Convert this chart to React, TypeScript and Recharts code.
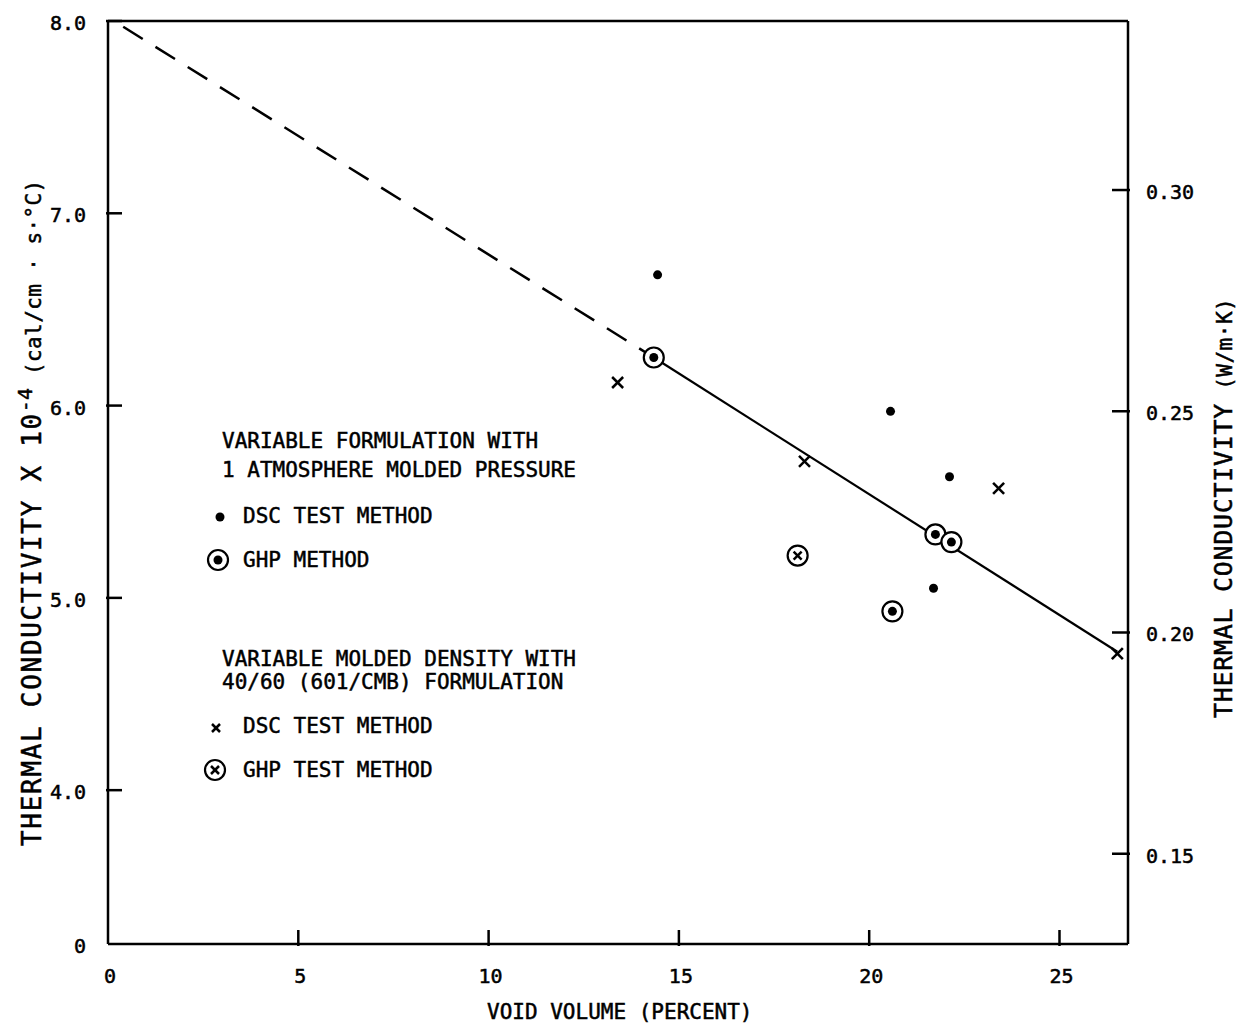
import React from "react";
import { ComposedChart, XAxis, YAxis, Line, Scatter, ReferenceLine } from "recharts";

// void volume (%) vs thermal conductivity (x10^-4 cal/cm·s·°C)
const dscFormulation = [
  { x: 14.44, y: 6.68 },
  { x: 20.56, y: 5.97 },
  { x: 22.11, y: 5.63 },
  { x: 21.69, y: 5.05 },
];
const ghpFormulation = [
  { x: 14.34, y: 6.25 },
  { x: 21.74, y: 5.33 },
  { x: 22.16, y: 5.29 },
  { x: 20.61, y: 4.93 },
];
const dscDensity = [
  { x: 13.39, y: 6.12 },
  { x: 18.3, y: 5.71 },
  { x: 23.4, y: 5.57 },
  { x: 26.52, y: 4.71 },
];
const ghpDensity = [{ x: 18.12, y: 5.22 }];

// fitted line: extrapolated (dashed) and measured range (solid)
const fitDashed = [
  { x: 0.4, y: 7.97 },
  { x: 14.34, y: 6.25 },
];
const fitSolid = [
  { x: 14.34, y: 6.25 },
  { x: 26.52, y: 4.72 },
];

const xTicks = [0, 5, 10, 15, 20, 25];
// broken axis: bottom of the frame is labelled 0
const leftTicks = [3.2, 4, 5, 6, 7, 8];
const leftTickLabels = ["0", "4.0", "5.0", "6.0", "7.0", "8.0"];
const rightTicks = [0.15, 0.2, 0.25, 0.3];
const rightTickLabels = ["0.15", "0.20", "0.25", "0.30"];

const FONT = "'DejaVu Sans Mono', monospace";
const INK = "#000";

const txt = { fontFamily: FONT, fill: INK, stroke: INK, strokeWidth: 0.5 };

function Dot({ cx, cy }: any) {
  return <circle cx={cx} cy={cy} r={4.5} fill={INK} />;
}
function CircleDot({ cx, cy }: any) {
  return (
    <g>
      <circle cx={cx} cy={cy} r={10} fill="#fff" stroke={INK} strokeWidth={2.2} />
      <circle cx={cx} cy={cy} r={4.5} fill={INK} />
    </g>
  );
}
function Cross({ cx, cy, s = 5.5 }: any) {
  return (
    <g stroke={INK} strokeWidth={2.5}>
      <line x1={cx - s} y1={cy - s} x2={cx + s} y2={cy + s} />
      <line x1={cx - s} y1={cy + s} x2={cx + s} y2={cy - s} />
    </g>
  );
}
function CircleCross({ cx, cy }: any) {
  return (
    <g>
      <circle cx={cx} cy={cy} r={10} fill="#fff" stroke={INK} strokeWidth={2.2} />
      <Cross cx={cx} cy={cy} s={4} />
    </g>
  );
}

function LeftTick({ x, y, payload }: any) {
  const i = leftTicks.indexOf(payload.value);
  return (
    <g>
      {i > 0 && <line x1={x} x2={x + 16} y1={y} y2={y} stroke={INK} strokeWidth={2.5} />}
      <text x={x - 20} y={y + 9} textAnchor="end" fontSize={20} {...txt}>
        {leftTickLabels[i]}
      </text>
    </g>
  );
}

function RightTick({ x, y, payload }: any) {
  const i = rightTicks.indexOf(payload.value);
  return (
    <g>
      <line x1={x - 18} x2={x} y1={y} y2={y} stroke={INK} strokeWidth={2.5} />
      <text x={x + 16} y={y + 9} textAnchor="start" fontSize={20} {...txt}>
        {rightTickLabels[i]}
      </text>
    </g>
  );
}

function BottomTick({ x, y, payload }: any) {
  return (
    <g>
      {payload.value !== 0 && <line x1={x} x2={x} y1={y} y2={y - 16} stroke={INK} strokeWidth={2.5} />}
      <text x={x + 2} y={y + 37} textAnchor="middle" fontSize={20} {...txt}>
        {String(payload.value)}
      </text>
    </g>
  );
}

function Annotations() {
  const line = (x: number, y: number, s: string) => (
    <text x={x} y={y} fontSize={21} {...txt}>
      {s}
    </text>
  );
  return (
    <svg
      width={1241}
      height={1026}
      style={{ position: "absolute", left: 0, top: 0, pointerEvents: "none" }}
    >
      {line(222, 448, "VARIABLE FORMULATION WITH")}
      {line(222, 477, "1 ATMOSPHERE MOLDED PRESSURE")}
      <Dot cx={220} cy={517} />
      {line(243, 523, "DSC TEST METHOD")}
      <CircleDot cx={218} cy={560} />
      {line(243, 567, "GHP METHOD")}

      {line(222, 666, "VARIABLE MOLDED DENSITY WITH")}
      {line(222, 689, "40/60 (601/CMB) FORMULATION")}
      <Cross cx={216} cy={728} s={4} />
      {line(243, 733, "DSC TEST METHOD")}
      <CircleCross cx={215} cy={770} />
      {line(243, 777, "GHP TEST METHOD")}

      <text x={487} y={1019} fontSize={21} {...txt}>
        VOID VOLUME (PERCENT)
      </text>

      <text transform="translate(41,846) rotate(-90)" fontSize={26} {...txt}>
        <tspan letterSpacing={1.7}>THERMAL CONDUCTIVITY X 10</tspan>
        <tspan fontSize={20} dy={-9}>-4</tspan>
        <tspan fontSize={21} dy={9} letterSpacing={0.4}> (cal/cm · s·°C)</tspan>
      </text>

      <text transform="translate(1232,718) rotate(-90)" fontSize={25} {...txt}>
        <tspan letterSpacing={0.7}>THERMAL CONDUCTIVITY</tspan>
        <tspan fontSize={21} letterSpacing={0.5}> (W/m·K)</tspan>
      </text>
    </svg>
  );
}

export default function App() {
  return (
    <div style={{ position: "absolute", left: 0, top: 0, width: 1241, height: 1026, background: "#fff" }}>
      <ComposedChart width={1241} height={1026} margin={{ top: 21, right: 0, bottom: 0, left: 0 }}>
        <XAxis
          type="number"
          dataKey="x"
          domain={[0, 26.8]}
          ticks={xTicks}
          interval={0}
          allowDataOverflow
          height={82}
          tickSize={0}
          tickLine={false}
          axisLine={{ stroke: INK, strokeWidth: 2.5 }}
          tick={(p: any) => <BottomTick {...p} />}
        />
        <YAxis
          yAxisId="left"
          type="number"
          dataKey="y"
          domain={[3.2, 8]}
          ticks={leftTicks}
          interval={0}
          allowDataOverflow
          width={108}
          tickSize={0}
          tickLine={false}
          axisLine={{ stroke: INK, strokeWidth: 2.5 }}
          tick={(p: any) => <LeftTick {...p} />}
        />
        <YAxis
          yAxisId="right"
          orientation="right"
          type="number"
          domain={[0.1296, 0.3382]}
          ticks={rightTicks}
          interval={0}
          allowDataOverflow
          width={113}
          tickSize={0}
          tickLine={false}
          axisLine={{ stroke: INK, strokeWidth: 2.5 }}
          tick={(p: any) => <RightTick {...p} />}
        />
        <ReferenceLine yAxisId="left" y={8} stroke={INK} strokeWidth={2.5} />
        <Line
          yAxisId="left"
          data={fitDashed}
          dataKey="y"
          type="linear"
          stroke={INK}
          strokeWidth={2.5}
          strokeDasharray="23 15"
          dot={false}
          activeDot={false}
          isAnimationActive={false}
        />
        <Line
          yAxisId="left"
          data={fitSolid}
          dataKey="y"
          type="linear"
          stroke={INK}
          strokeWidth={2.2}
          dot={false}
          activeDot={false}
          isAnimationActive={false}
        />
        <Scatter yAxisId="left" data={dscFormulation} dataKey="y" shape={(p: any) => <Dot cx={p.cx} cy={p.cy} />} isAnimationActive={false} />
        <Scatter yAxisId="left" data={ghpFormulation} dataKey="y" shape={(p: any) => <CircleDot cx={p.cx} cy={p.cy} />} isAnimationActive={false} />
        <Scatter yAxisId="left" data={dscDensity} dataKey="y" shape={(p: any) => <Cross cx={p.cx} cy={p.cy} />} isAnimationActive={false} />
        <Scatter yAxisId="left" data={ghpDensity} dataKey="y" shape={(p: any) => <CircleCross cx={p.cx} cy={p.cy} />} isAnimationActive={false} />
      </ComposedChart>
      <Annotations />
    </div>
  );
}
